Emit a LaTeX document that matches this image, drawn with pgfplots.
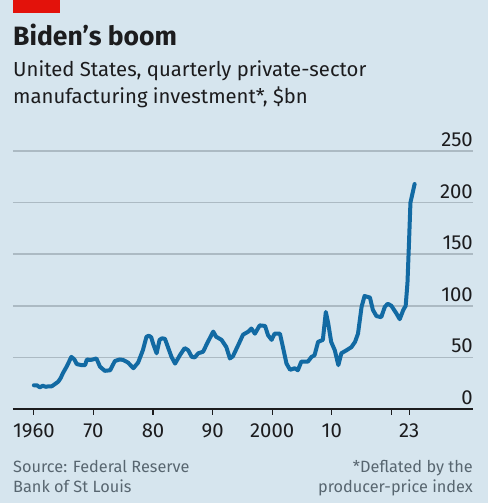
\documentclass[border=0pt]{standalone}
\usepackage{fontspec}
\setmainfont{Fira Sans}
\usepackage{pgfplots}
\pgfplotsset{compat=1.18}

\definecolor{bgcol}{RGB}{214,229,238}
\definecolor{gridcol}{RGB}{172,186,195}
\definecolor{econred}{RGB}{227,18,11}
\definecolor{linecol}{RGB}{18,106,163}
\definecolor{txt}{RGB}{28,28,30}
\definecolor{foot}{RGB}{88,102,112}

\begin{document}
\begin{tikzpicture}
% canvas
\fill[bgcol] (0pt,0pt) rectangle (488pt,503pt);
\fill[econred] (13pt,490pt) rectangle (60pt,503pt);

% headings
\node[anchor=base west, inner sep=0pt, text=txt, font=\fontsize{26.5}{30}\selectfont\bfseries] at (13pt,457pt) {Biden’s boom};
\node[anchor=base west, inner sep=0pt, text=txt, font=\fontsize{20.3}{23}\selectfont] at (13pt,426pt) {United States, quarterly private-sector};
\node[anchor=base west, inner sep=0pt, text=txt, font=\fontsize{20.3}{23}\selectfont] at (13pt,399pt) {manufacturing investment*, \$bn};

% footnotes
\node[anchor=base west, inner sep=0pt, text=foot, font=\fontsize{16.3}{19}\selectfont] at (13pt,30pt) {Source: Federal Reserve};
\node[anchor=base west, inner sep=0pt, text=foot, font=\fontsize{16.3}{19}\selectfont] at (13pt,10pt) {Bank of St Louis};
\node[anchor=base east, inner sep=0pt, text=foot, font=\fontsize{16.3}{19}\selectfont] at (473pt,30pt) {*Deflated by the};
\node[anchor=base east, inner sep=0pt, text=foot, font=\fontsize{16.3}{19}\selectfont] at (473pt,10pt) {producer-price index};

\begin{axis}[
  at={(13pt,94pt)}, anchor=south west,
  scale only axis, width=460pt, height=258pt,
  xmin=1956.5, xmax=2033.7, ymin=0, ymax=250,
  axis x line*=bottom, axis y line*=right,
  x axis line style={draw=txt, line width=1.4pt},
  y axis line style={draw=none},
  xtick={1960,1970,1980,1990,2000,2010,2020,2023},
  xticklabels={1960,70,80,90,2000,10,,23},
  xtick align=outside, major tick length=6pt,
  xtick style={draw=txt, line width=1.2pt},
  ytick={0,50,100,150,200,250},
  ytick style={draw=none},
  ymajorgrids, grid style={draw=gridcol, line width=1.5pt},
  /pgf/number format/assume math mode=true,
  /pgf/number format/1000 sep={},
  xticklabel style={anchor=base, inner sep=0pt, text=txt, font=\fontsize{20.3}{23}\selectfont, yshift=-22pt},
  yticklabel pos=right,
  yticklabel style={anchor=south east, inner sep=0pt, text=txt, font=\fontsize{20.3}{23}\selectfont, yshift=4pt},
  clip=false,
]
\addplot[linecol, line width=4pt, line join=round, line cap=round] coordinates {
(1960.0,23) (1960.5,23) (1961.0,21) (1961.5,22.5) (1962.0,21.5) (1962.5,22)
(1963.0,22) (1963.5,24) (1964.1,26.5) (1964.5,30) (1964.9,35) (1965.5,41)
(1966.0,47) (1966.3,50.5) (1966.8,48) (1967.2,43.5) (1968.0,42.5) (1968.6,42.5)
(1968.9,48) (1969.5,47.5) (1969.9,48) (1970.5,49) (1971.1,41) (1971.9,37)
(1972.8,37.5) (1973.6,46.5) (1974.4,48) (1975.0,47.5) (1975.8,45) (1976.7,39.5)
(1977.5,45) (1978.3,57) (1978.9,70) (1979.3,71) (1979.7,69.5) (1980.0,63.5)
(1980.6,54) (1981.1,67) (1981.5,68.5) (1982.0,68) (1982.5,60) (1983.1,50.5)
(1983.7,44) (1984.5,52) (1985.3,59) (1985.9,57) (1986.5,50.5) (1987.0,50)
(1987.6,54) (1988.4,55.5) (1989.2,65) (1990.1,75) (1990.6,70) (1991.5,67)
(1992.3,60) (1992.9,49) (1993.4,51) (1994.3,62) (1995.1,72) (1996.0,75)
(1996.5,78) (1997.1,73) (1997.9,81) (1998.8,80.5) (1999.3,71.5) (1999.9,67)
(2000.4,73) (2001.3,73) (2001.8,60) (2002.4,44) (2003.0,38) (2003.8,39.5)
(2004.3,37.5) (2004.9,46) (2006.0,46) (2006.6,50.5) (2007.1,52) (2007.7,65)
(2008.5,67) (2009.0,94) (2009.4,83) (2009.9,65) (2010.5,57) (2011.1,42.5)
(2011.6,54) (2012.5,57) (2013.3,60) (2013.9,65) (2014.4,73) (2015.0,99)
(2015.5,109.5) (2016.4,108) (2016.9,96) (2017.5,90) (2018.3,89) (2018.9,99)
(2019.4,102) (2020.0,100) (2020.8,93) (2021.4,87) (2022.0,96) (2022.4,100)
(2022.7,122) (2022.95,160) (2023.2,200) (2023.9,218)
};
\end{axis}
\end{tikzpicture}
\end{document}
